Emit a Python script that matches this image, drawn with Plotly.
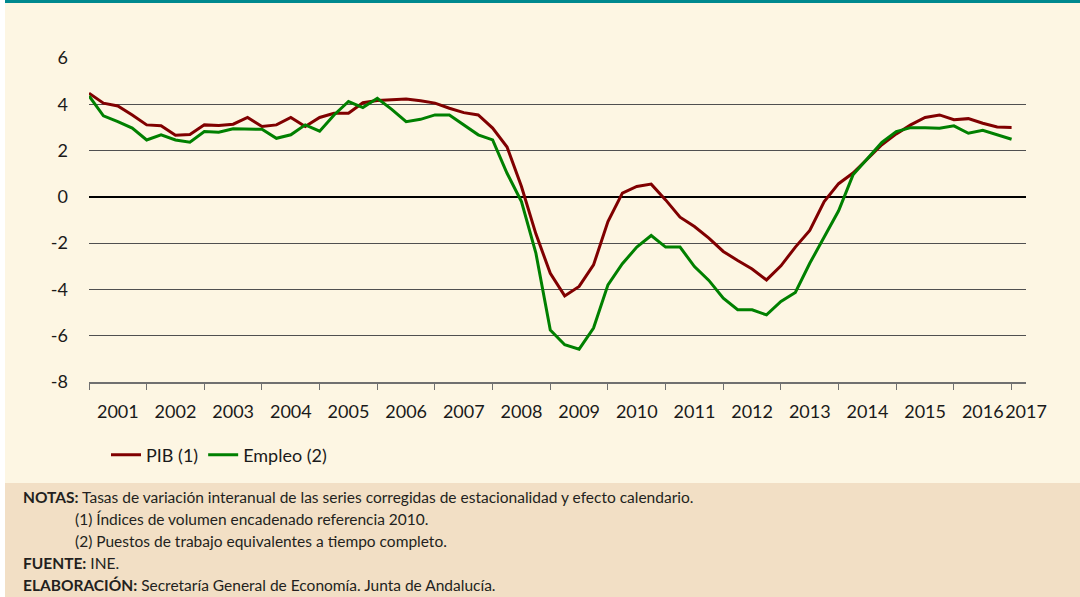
import plotly.graph_objects as go

# ---- data ----
years = [str(y) for y in range(2001, 2018)]
quarters = [f"{y}T{q}" for y in range(2001, 2018) for q in range(1, 5)][:66]  # 2001T1 .. 2017T2

pib = [4.48, 4.05, 3.93, 3.54, 3.11, 3.07, 2.66, 2.69, 3.11, 3.08, 3.14, 3.43, 3.04,
       3.11, 3.43, 3.04, 3.43, 3.61, 3.61, 4.07, 4.16, 4.19, 4.23, 4.15, 4.05, 3.83,
       3.64, 3.54, 2.97, 2.15, 0.45, -1.6, -3.3, -4.28, -3.87, -2.94, -1.07, 0.16,
       0.45, 0.55, -0.13, -0.88, -1.28, -1.78, -2.36, -2.75, -3.12, -3.59, -2.98,
       -2.17, -1.45, -0.2, 0.57, 1.03, 1.63, 2.25, 2.72, 3.11, 3.43, 3.54, 3.33,
       3.38, 3.18, 3.02, 3.0]
empleo = [4.36, 3.5, 3.25, 2.97, 2.46, 2.68, 2.46, 2.36, 2.82, 2.79, 2.94, 2.92, 2.92,
          2.53, 2.68, 3.11, 2.84, 3.54, 4.12, 3.86, 4.26, 3.78, 3.25, 3.35, 3.54, 3.54,
          3.11, 2.68, 2.46, 1.02, -0.2, -2.43, -5.75, -6.39, -6.58, -5.67, -3.8, -2.89,
          -2.17, -1.67, -2.17, -2.17, -3.01, -3.61, -4.38, -4.88, -4.88, -5.1, -4.52,
          -4.13, -2.87, -1.71, -0.6, 0.95, 1.67, 2.35, 2.82, 2.99, 2.99, 2.96, 3.07,
          2.75, 2.88, 2.68, 2.49]

y_ticks = [-8, -6, -4, -2, 0, 2, 4, 6]
y_ticktext = ["-8", "-6", "-4", "-2", "0", "2", "4", "6"]

notes = [
    ("<b>NOTAS:</b> Tasas de variación interanual de las series corregidas de estacionalidad y efecto calendario.", 21),
    ("(1) Índices de volumen encadenado referencia 2010.", 73),
    ("(2) Puestos de trabajo equivalentes a tiempo completo.", 73),
    ("<b>FUENTE:</b> INE.", 21),
    ("<b>ELABORACIÓN:</b> Secretaría General de Economía. Junta de Andalucía.", 21),
]
note_y = [497, 519, 541, 563, 585]

# ---- layout geometry (pixels) ----
W, H = 1080, 597
L, R, T, B = 89, 54, 58, 215
PW, PH = W - L - R, H - T - B

def px(x):
    return (x - L) / PW

def py(y):
    return (H - B - y) / PH

idx = list(range(len(quarters)))
n = len(pib)

CREAM = "#FDF6E3"
NOTE_BG = "#F2DFC5"
TEAL = "#00898F"
FONT = "Lato, 'Open Sans', sans-serif"

fig = go.Figure()
fig.add_trace(go.Scatter(x=idx[:n], y=pib, mode="lines", name="PIB (1)",
                         line=dict(color="#800000", width=3)))
fig.add_trace(go.Scatter(x=idx[:n], y=empleo, mode="lines", name="Empleo (2)",
                         line=dict(color="#008000", width=3)))
# dummy trace to anchor label axis
fig.add_trace(go.Scatter(x=[idx[0], idx[-1]], y=[None, None], xaxis="x2",
                         showlegend=False, hoverinfo="skip"))

label_pos = [4 * k + 2 for k in range(16)] + [idx[-1]]

fig.update_layout(
    width=W, height=H,
    margin=dict(l=L, r=R, t=T, b=B),
    paper_bgcolor=CREAM,
    plot_bgcolor="rgba(0,0,0,0)",
    font=dict(family=FONT, size=18, color="#1a1a1a"),
    xaxis=dict(range=[0, idx[-1]], tickmode="array",
               tickvals=[4 * k for k in range(17)], showticklabels=False,
               ticks="outside", ticklen=6, tickcolor="#707070", tickwidth=1,
               showgrid=False, zeroline=False, showline=True, linecolor="#707070",
               linewidth=1.5),
    xaxis2=dict(range=[0, idx[-1]], overlaying="x", side="bottom", anchor="y",
                tickmode="array", tickvals=label_pos, ticktext=years, tickangle=0,
                ticks="", showgrid=False, zeroline=False, showline=False,
                ticklabelstandoff=17, tickfont=dict(size=18, family=FONT, color="#1a1a1a")),
    yaxis=dict(range=[-8, 6], tickmode="array", tickvals=y_ticks, ticktext=y_ticktext,
               showgrid=True, gridcolor="#505050", gridwidth=1,
               zeroline=True, zerolinecolor="#000000", zerolinewidth=2,
               showline=False, ticks="", ticklabelstandoff=20,
               tickfont=dict(size=18, family=FONT, color="#1a1a1a")),
    legend=dict(orientation="h", x=px(106), y=py(455), xanchor="left", yanchor="middle",
                font=dict(size=18, family=FONT, color="#1a1a1a"),
                bgcolor="rgba(0,0,0,0)", tracegroupgap=0),
    showlegend=True,
)

shapes = [
    dict(type="rect", xref="paper", yref="paper", x0=px(0), x1=px(5), y0=py(0), y1=py(H),
         fillcolor="#FFFFFF", line=dict(width=0), layer="below"),
    dict(type="rect", xref="paper", yref="paper", x0=px(5), x1=px(W), y0=py(0), y1=py(3),
         fillcolor=TEAL, line=dict(width=0), layer="below"),
    dict(type="rect", xref="paper", yref="paper", x0=px(5), x1=px(W), y0=py(483), y1=py(H),
         fillcolor=NOTE_BG, line=dict(width=0), layer="below"),
]
fig.update_layout(shapes=shapes)

for (txt, xp), yp in zip(notes, note_y):
    fig.add_annotation(text=txt, xref="paper", yref="paper", x=px(xp), y=py(yp),
                       xanchor="left", yanchor="middle", showarrow=False,
                       font=dict(family=FONT, size=15.5, color="#231F20"))

fig.write_html("out.html", config={"displayModeBar": False},
               post_script="document.body.style.margin='0';document.body.style.overflow='hidden';")
